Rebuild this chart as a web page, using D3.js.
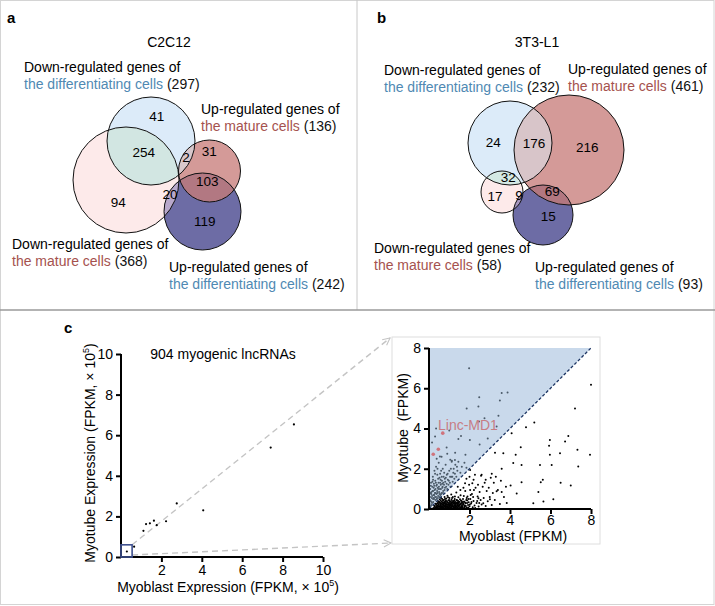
<!DOCTYPE html>
<html><head><meta charset="utf-8">
<script src="https://cdn.jsdelivr.net/npm/d3@7"></script>
<style>
body{margin:0;background:#fff;}
svg{display:block;font-family:"Liberation Sans",Arial,Helvetica,sans-serif;}
</style></head>
<body>
<svg id="fig" width="715" height="606"></svg>
<script>
// ---------------- DATA ----------------
// Panel a (C2C12) sets and region counts
const setNamesA = ["Down-regulated genes of the differentiating cells","Up-regulated genes of the mature cells","Down-regulated genes of the mature cells","Up-regulated genes of the differentiating cells"];
const setSizesA = [297, 136, 368, 242];
const regionCountsA = [41, 254, 2, 31, 103, 20, 94, 119];
// Panel b (3T3-L1)
const setSizesB = [232, 461, 58, 93];
const regionCountsB = [24, 176, 216, 32, 17, 9, 69, 15];

// Panel c: left scatter (×10^5 FPKM)
const bigX = [0.29, 0.65, 1.11, 1.24, 1.43, 1.63, 1.77, 2.23, 2.76, 4.07, 7.41, 8.56];
const bigY = [0.27, 0.51, 1.29, 1.62, 1.66, 1.79, 1.57, 1.76, 2.64, 2.30, 5.39, 6.53];
const bigTicksX = [2, 4, 6, 8, 10];
const bigTicksY = [0, 2, 4, 6, 8, 10];

// Panel c inset: points below the diagonal (myoblast > myotube)
const belowPts = [
[8.0,6.17],[7.21,5.0],[5.2,4.3],[4.79,4.06],[4.08,3.76],[5.97,3.43],[6.88,3.63],[6.72,3.35],[7.33,2.94],[7.95,2.69],[5.93,3.14],[4.53,3.07],[3.67,2.77],[3.26,2.8],[4.28,2.69],[5.97,2.69],[6.47,2.77],[5.48,2.19],[6.06,2.19],[7.37,2.11],[4.57,2.19],[3.59,2.0],[4.16,2.28],[3.05,1.55],[5.52,1.33],[6.5,1.3],[7.0,1.17],[5.62,1.45],[4.57,1.33],[4.03,1.17],[3.59,0.85],[3.34,0.88],[4.33,0.77],[5.4,0.85],[6.14,0.48],[5.65,0.37],[5.15,0.28],[3.84,0.3],[3.01,0.48],[2.68,0.28],[3.1,1.75],[2.44,0.53],[2.03,0.95],[1.78,1.28],[2.14,1.28],[2.57,1.65],[2.8,1.45],[2.27,1.7],[2.03,1.94],
[0.22,0.05],[0.28,0.12],[0.31,0.03],[0.35,0.2],[0.38,0.08],[0.41,0.15],[0.43,0.3],[0.46,0.04],[0.48,0.22],[0.5,0.11],[0.52,0.35],[0.55,0.06],[0.57,0.18],[0.58,0.42],[0.61,0.27],[0.63,0.09],[0.65,0.5],[0.66,0.14],[0.68,0.33],[0.7,0.03],[0.71,0.22],[0.73,0.45],[0.75,0.12],[0.77,0.6],[0.78,0.28],[0.8,0.07],[0.81,0.38],[0.83,0.17],[0.85,0.52],[0.86,0.25],[0.88,0.04],[0.9,0.32],[0.91,0.66],[0.93,0.14],[0.95,0.42],[0.96,0.21],[0.98,0.08],[1.0,0.3],[1.01,0.55],[1.03,0.16],[1.05,0.37],[1.06,0.05],[1.08,0.25],[1.1,0.72],[1.11,0.46],[1.13,0.12],[1.15,0.31],[1.17,0.2],[1.18,0.6],[1.2,0.03],[1.22,0.4],[1.24,0.15],[1.25,0.27],[1.27,0.5],[1.29,0.09],[1.31,0.35],[1.33,0.22],[1.35,0.82],[1.37,0.13],[1.39,0.44],[1.41,0.28],[1.43,0.06],[1.45,0.58],[1.47,0.19],[1.5,0.36],[1.52,0.1],[1.54,0.25],[1.56,0.68],[1.58,0.42],[1.6,0.15],[1.63,0.3],[1.66,0.05],[1.68,0.5],[1.7,0.21],[1.73,0.37],[1.76,0.12],[1.79,0.9],[1.81,0.28],[1.84,0.45],[1.87,0.08],[1.9,0.62],[1.93,0.2],[1.96,0.34],[2.0,0.14],[2.04,0.5],[2.08,0.27],[2.12,0.75],[2.16,0.09],[2.2,0.4],[2.25,0.18],[2.3,1.05],[2.35,0.3],[2.4,0.62],[2.45,0.12],[2.5,0.85],[2.55,0.45],[2.6,0.22],[2.65,1.1],[2.7,0.55],[2.8,0.15],[2.85,0.9],[2.9,0.38],[3.0,0.6],[3.1,0.2],[3.2,1.3],[3.25,0.45],[3.4,0.95],[3.5,0.25],
[0.33,0.26],[0.45,0.38],[0.53,0.47],[0.6,0.55],[0.69,0.08],[0.74,0.31],[0.79,0.5],[0.84,0.1],[0.89,0.2],[0.94,0.58],[0.99,0.45],[1.04,0.24],[1.09,0.1],[1.14,0.55],[1.19,0.35],[1.23,0.07],[1.28,0.62],[1.32,0.12],[1.36,0.3],[1.4,0.18],[1.44,0.4],[1.48,0.02],[1.53,0.48],[1.57,0.24],[1.62,0.08],[1.67,0.35],[1.72,0.65],[1.77,0.18],[1.83,0.04],[1.88,0.3],[1.95,0.5],[2.02,0.22],[2.1,0.35],[2.18,0.6],[2.28,0.05],[2.38,0.4],[2.48,0.3],[0.4,0.02],[0.56,0.3],[0.64,0.2],[0.72,0.16],[0.82,0.3],[0.92,0.05],[1.02,0.12],[1.12,0.2],[1.26,0.42],[1.46,0.3],[1.64,0.2],[1.86,0.55],[2.06,0.7],[2.22,0.95],[1.98,1.2],[1.7,1.05],[1.55,0.95],[1.42,1.1],[1.85,1.5],[2.0,1.6],[2.2,1.45],[2.42,1.2],[2.6,1.7],[2.75,1.3],[2.95,1.05],[3.15,0.8],[3.3,1.6],[3.55,1.4],[3.7,0.6],[3.8,1.1],
[0.25,0.18],[0.3,0.08],[0.36,0.12],[0.39,0.25],[0.42,0.06],[0.44,0.18],[0.47,0.12],[0.49,0.3],[0.51,0.02],[0.54,0.15],[0.56,0.24],[0.59,0.1],[0.62,0.36],[0.64,0.04],[0.67,0.24],[0.69,0.42],[0.72,0.07],[0.74,0.2],[0.76,0.35],[0.79,0.13],[0.82,0.22],[0.84,0.42],[0.87,0.11],[0.89,0.36],[0.92,0.24],[0.94,0.09],[0.97,0.3],[0.99,0.16],[1.02,0.4],[1.04,0.06],[1.07,0.18],[1.09,0.33],[1.12,0.08],[1.14,0.4],[1.16,0.14],[1.19,0.26],[1.21,0.1],[1.24,0.34],[1.26,0.2],[1.29,0.04],[1.31,0.27],[1.34,0.14],[1.36,0.45],[1.38,0.06],[1.42,0.22],[1.44,0.12],[1.47,0.33],[1.51,0.18],[1.55,0.06],[1.59,0.3],[1.61,0.4],[1.65,0.12],[1.69,0.28],[1.74,0.08],[1.78,0.32],[1.82,0.15],[1.89,0.42],[1.94,0.06],[0.6,0.12],[0.7,0.26],[0.8,0.16],[0.9,0.12],[1.0,0.22],[1.1,0.28],[1.2,0.12],[1.3,0.18],[1.4,0.34],[1.5,0.22],[1.6,0.1]
];
// points above the diagonal (myotube > myoblast)
const abovePts = [
[1.98,7.0],[2.44,5.09],[1.86,5.0],[3.59,5.76],[3.88,5.79],[3.5,5.39],[2.48,5.55],[2.47,4.35],[0.35,4.0],[1.45,3.48],[2.02,3.43],[3.34,4.1],[3.43,4.63],[2.74,4.51],[0.87,3.05],[1.28,2.44],[1.58,3.63],[1.12,2.35],[1.29,2.8],[0.54,2.61],[0.3,3.6],[2.5,3.2],[1.8,2.7],[0.15,3.3],[1.0,3.9],[2.9,3.5],
[0.03,0.25],[0.05,0.6],[0.06,1.0],[0.08,0.4],[0.1,1.3],[0.11,0.75],[0.13,0.2],[0.14,0.55],[0.16,1.1],[0.18,0.9],[0.19,1.6],[0.21,0.35],[0.22,0.7],[0.24,1.25],[0.25,0.5],[0.27,1.9],[0.28,0.95],[0.3,0.6],[0.31,1.4],[0.33,0.8],[0.35,2.1],[0.36,1.15],[0.38,0.5],[0.4,0.9],[0.41,1.7],[0.43,1.05],[0.45,0.65],[0.47,1.3],[0.48,2.3],[0.5,0.85],[0.52,1.55],[0.54,1.0],[0.56,0.7],[0.58,1.2],[0.6,1.9],[0.62,0.8],[0.64,1.4],[0.66,1.05],[0.68,2.0],[0.7,0.9],[0.72,1.6],[0.74,1.2],[0.77,0.95],[0.8,1.35],[0.82,2.2],[0.85,1.1],[0.88,1.7],[0.9,1.0],[0.93,1.45],[0.96,1.2],[1.0,1.9],[1.03,1.3],[1.06,1.1],[1.1,1.6],[1.13,2.4],[1.17,1.35],[1.2,1.8],[1.25,1.5],[1.3,2.2],[1.35,1.6],[1.4,1.9],[1.45,2.35],[1.55,1.8],[1.62,2.1],[1.75,2.3],[1.85,2.05],[0.15,0.3],[0.2,0.5],[0.26,0.7],[0.32,0.45],[0.37,0.75],[0.44,0.55],[0.53,0.6],[0.6,0.75],[0.69,0.8],[0.09,0.15],[0.12,0.85],[0.23,1.05],[0.34,1.3],[0.46,1.0],[0.57,1.45],[0.65,1.25],[0.78,1.5],[0.2,1.45],[0.3,1.75],[0.42,2.0],[0.55,1.75],[0.38,2.5],[0.62,2.6],[0.9,2.75],[1.05,2.45],
[0.04,0.45],[0.07,0.8],[0.09,1.15],[0.12,0.35],[0.15,0.65],[0.17,1.35],[0.2,0.9],[0.23,0.55],[0.26,1.15],[0.29,0.8],[0.32,1.0],[0.35,0.6],[0.39,1.2],[0.42,0.8],[0.45,1.5],[0.49,1.1],[0.52,0.75],[0.55,1.3],[0.59,1.0],[0.63,1.6],[0.67,1.1],[0.71,1.3],[0.75,1.8],[0.79,1.05],[0.83,1.55],[0.87,1.25],[0.92,1.75],[0.98,1.4],[1.04,1.6],[1.08,2.0],[1.15,1.6],[1.22,2.0],[1.28,1.75],[1.38,2.1]
];
// Linc-MD1 highlighted points
const lincX = [0.68, 0.46, 0.21];
const lincY = [3.77, 2.97, 2.72];
const insetTicksX = [2, 4, 6, 8];
const insetTicksY = [0, 2, 4, 6, 8];

// ---------------- LAYOUT / STYLE ----------------
const C = {
  dd:"#dcebf9", um:"#d49a98", dm:"#fdeaea", ud:"#6d6ca5",
  blueTxt:"#4f89b3", redTxt:"#a5524e"
};
// circle geometry (pixels) for each set, same order as set arrays: [cx, cy, r]
const geoA = [[151,141,44],[209.5,171,31],[126,180,53],[202.5,211.5,38.5]];
const geoB = [[510,143,42],[569,150,55],[502,192,21],[543,215,30]];
const fillOrder = ["dd","um","dm","ud"];
// pair overlap colours: [i, j, colour]
const pairsA = [[0,2,"#d2e6e2"],[0,1,"#d8c7cb"],[1,3,"#b27882"],[2,3,"#b8a8cb"]];
const pairsB = [[0,1,"#d8c5c9"],[0,2,"#d4e9e4"],[1,3,"#b27780"],[2,3,"#a596bf"],[0,3,"#c8b8c8"]];
const regionPosA = [[156.7,116],[143.7,152.3],[186,156.7],[209.3,150.7],[207.3,181],[170,194],[118.3,201.7],[204.7,220.7]];
const regionPosB = [[493.3,142.3],[534,143.3],[587.3,146.7],[508.3,176.7],[495,196],[519,195],[552.3,190.7],[548.3,215.7]];

const svg = d3.select("#fig");
const defs = svg.append("defs");

// borders
svg.append("rect").attr("x",0.5).attr("y",0.5).attr("width",713.5).attr("height",604).attr("fill","none").attr("stroke","#d4d4d4");
svg.append("line").attr("x1",357).attr("x2",357).attr("y1",0).attr("y2",310).attr("stroke","#c8c8c8");
svg.append("line").attr("x1",0).attr("x2",715).attr("y1",310).attr("y2",310).attr("stroke","#9a9a9a").attr("stroke-width",1.5);

// panel letters
[["a",7,23],["b",377,23],["c",64,333]].forEach(([t,x,y])=>{
  svg.append("text").attr("x",x).attr("y",y).attr("font-size",15).attr("font-weight","bold").text(t);
});

function venn(id, geo, sizes, pairs, counts, pos, title, titleX, labels){
  const g = svg.append("g");
  geo.forEach((c,i)=>{
    defs.append("clipPath").attr("id",id+"c"+i).append("circle").attr("cx",c[0]).attr("cy",c[1]).attr("r",c[2]);
  });
  g.selectAll("circle.base").data(geo).join("circle").attr("class","base")
    .attr("cx",d=>d[0]).attr("cy",d=>d[1]).attr("r",d=>d[2]).attr("fill",(d,i)=>C[fillOrder[i]]);
  pairs.forEach(([i,j,col])=>{
    g.append("circle").attr("cx",geo[j][0]).attr("cy",geo[j][1]).attr("r",geo[j][2])
      .attr("clip-path",`url(#${id}c${i})`).attr("fill",col);
  });
  g.selectAll("circle.out").data(geo).join("circle").attr("class","out")
    .attr("cx",d=>d[0]).attr("cy",d=>d[1]).attr("r",d=>d[2]).attr("fill","none").attr("stroke","#111").attr("stroke-width",1);
  g.selectAll("text.cnt").data(counts).join("text").attr("class","cnt")
    .attr("x",(d,i)=>pos[i][0]).attr("y",(d,i)=>pos[i][1]+5).attr("text-anchor","middle").attr("font-size",13.5).text(d=>d);
  svg.append("text").attr("x",titleX).attr("y",47).attr("text-anchor","middle").attr("font-size",14).text(title);
  labels.forEach(l=>{
    const t1 = svg.append("text").attr("x",l.x).attr("y",l.y).attr("font-size",14).text(l.l1);
    const t2 = svg.append("text").attr("x",l.x).attr("y",l.y+16.5).attr("font-size",14);
    t2.append("tspan").attr("fill",l.col).text(l.l2);
    t2.append("tspan").attr("fill","#111").text(" ("+sizes[l.set]+")");
  });
}

venn("va", geoA, setSizesA, pairsA, regionCountsA, regionPosA, "C2C12", 169, [
  {x:24,y:72,l1:"Down-regulated genes of",l2:"the differentiating cells",col:C.blueTxt,set:0},
  {x:201,y:114,l1:"Up-regulated genes of",l2:"the mature cells",col:C.redTxt,set:1},
  {x:12,y:249,l1:"Down-regulated genes of",l2:"the mature cells",col:C.redTxt,set:2},
  {x:169,y:272,l1:"Up-regulated genes of",l2:"the differentiating cells",col:C.blueTxt,set:3}
]);
venn("vb", geoB, setSizesB, pairsB, regionCountsB, regionPosB, "3T3-L1", 537, [
  {x:384,y:75,l1:"Down-regulated genes of",l2:"the differentiating cells",col:C.blueTxt,set:0},
  {x:568,y:74,l1:"Up-regulated genes of",l2:"the mature cells",col:C.redTxt,set:1},
  {x:374,y:253,l1:"Down-regulated genes of",l2:"the mature cells",col:C.redTxt,set:2},
  {x:535,y:272,l1:"Up-regulated genes of",l2:"the differentiating cells",col:C.blueTxt,set:3}
]);

// ---------------- Panel c left scatter ----------------
const bx = d3.scaleLinear().domain([0,10]).range([121,323]);
const by = d3.scaleLinear().domain([0,10]).range([557,354]);

defs.append("marker").attr("id","arr").attr("viewBox","0 0 10 10").attr("refX",9).attr("refY",5)
  .attr("markerWidth",9).attr("markerHeight",9).attr("orient","auto").attr("markerUnits","userSpaceOnUse")
  .append("path").attr("d","M1,1 L9,5 L1,9").attr("fill","none").attr("stroke","#c4c4c4").attr("stroke-width",1.2);

// inset geometry
const ix = d3.scaleLinear().domain([0,8]).range([429,591]);
const iy = d3.scaleLinear().domain([0,8]).range([509,348]);
const zoomBoxX = 0.55, zoomBoxY = 0.6;

svg.append("line").attr("x1",bx(zoomBoxX)).attr("y1",by(zoomBoxY)).attr("x2",390).attr("y2",338)
  .attr("stroke","#c4c4c4").attr("stroke-width",1.4).attr("stroke-dasharray","6,4").attr("marker-end","url(#arr)");
svg.append("line").attr("x1",bx(zoomBoxX)).attr("y1",by(0)-2).attr("x2",391).attr("y2",543)
  .attr("stroke","#c4c4c4").attr("stroke-width",1.4).attr("stroke-dasharray","6,4").attr("marker-end","url(#arr)");

const gl = svg.append("g");
const xAxB = d3.axisBottom(bx).tickValues(bigTicksX).tickSize(5).tickSizeOuter(0);
const yAxB = d3.axisLeft(by).tickValues(bigTicksY).tickSize(5).tickSizeOuter(0);
const gx = gl.append("g").attr("transform","translate(0,557)").call(xAxB);
const gy = gl.append("g").attr("transform","translate(121,0)").call(yAxB);
[gx,gy].forEach(a=>{
  a.selectAll("path,line").attr("stroke","#000").attr("stroke-width",2);
  a.selectAll("text").attr("font-size",14).attr("font-family","Liberation Sans, Arial, sans-serif").attr("fill","#000");
});
gx.select("path").attr("d","M120,0H323");
gy.select("path").attr("d","M0,558V354");
gl.selectAll("circle.bp").data(bigX).join("circle").attr("class","bp")
  .attr("cx",d=>bx(d)).attr("cy",(d,i)=>by(bigY[i])).attr("r",1.1).attr("fill","#000");
gl.append("rect").attr("x",bx(0)).attr("y",by(zoomBoxY)).attr("width",bx(zoomBoxX)-bx(0)).attr("height",by(0)-by(zoomBoxY))
  .attr("fill","none").attr("stroke","#3d4f8e").attr("stroke-width",1.6);
gl.append("text").attr("x",223).attr("y",359).attr("text-anchor","middle").attr("font-size",14).text("904 myogenic lncRNAs");
const xl = gl.append("text").attr("x",228).attr("y",592).attr("text-anchor","middle").attr("font-size",14);
xl.append("tspan").text("Myoblast Expression (FPKM, \u00d7 10");
xl.append("tspan").attr("font-size",9).attr("dy",-6).text("5");
xl.append("tspan").attr("dy",6).text(")");
const yl = gl.append("text").attr("transform","translate(95,453) rotate(-90)").attr("text-anchor","middle").attr("font-size",14);
yl.append("tspan").text("Myotube Expression (FPKM, \u00d7 10");
yl.append("tspan").attr("font-size",9).attr("dy",-6).text("5");
yl.append("tspan").attr("dy",6).text(")");

// ---------------- Panel c inset ----------------
const gi = svg.append("g");
gi.append("rect").attr("x",392).attr("y",337).attr("width",208).attr("height",207).attr("fill","#fff").attr("stroke","#dedede");
gi.append("path").attr("d",`M${ix(0)},${iy(0)}L${ix(0)},${iy(8)}L${ix(8)},${iy(8)}Z`).attr("fill","#c9d9eb");
gi.selectAll("circle.bl").data(belowPts).join("circle").attr("class","bl")
  .attr("cx",d=>ix(d[0])).attr("cy",d=>iy(d[1])).attr("r",1).attr("fill","#000");
gi.selectAll("circle.ab").data(abovePts).join("circle").attr("class","ab")
  .attr("cx",d=>ix(d[0])).attr("cy",d=>iy(d[1])).attr("r",1).attr("fill","#4b5a68");
gi.append("line").attr("x1",ix(0)).attr("y1",iy(0)).attr("x2",ix(8)).attr("y2",iy(8))
  .attr("stroke","#1d3563").attr("stroke-width",1.3).attr("stroke-dasharray","3,2");
gi.selectAll("circle.lm").data(lincX).join("circle").attr("class","lm")
  .attr("cx",d=>ix(d)).attr("cy",(d,i)=>iy(lincY[i])).attr("r",1.8).attr("fill","#d0737c");
gi.append("text").attr("x",438).attr("y",430).attr("font-size",14).attr("fill","#c77d84").text("Linc-MD1");
const xAxI = d3.axisBottom(ix).tickValues(insetTicksX).tickSize(5).tickPadding(1).tickSizeOuter(0);
const yAxI = d3.axisLeft(iy).tickValues(insetTicksY).tickSize(5).tickSizeOuter(0);
const gix = gi.append("g").attr("transform","translate(0,509)").call(xAxI);
const giy = gi.append("g").attr("transform","translate(429,0)").call(yAxI);
[gix,giy].forEach(a=>{
  a.selectAll("path,line").attr("stroke","#000").attr("stroke-width",2);
  a.selectAll("text").attr("font-size",14).attr("font-family","Liberation Sans, Arial, sans-serif").attr("fill","#000");
});
gix.select("path").attr("d","M428,0H591");
giy.select("path").attr("d","M0,510V348");
gi.append("text").attr("x",513).attr("y",541).attr("text-anchor","middle").attr("font-size",14).text("Myoblast (FPKM)");
gi.append("text").attr("transform","translate(408,428) rotate(-90)").attr("text-anchor","middle").attr("font-size",14)
  .attr("xml:space","preserve").style("white-space","pre").text("Myotube  (FPKM)");
</script>
</body></html>
